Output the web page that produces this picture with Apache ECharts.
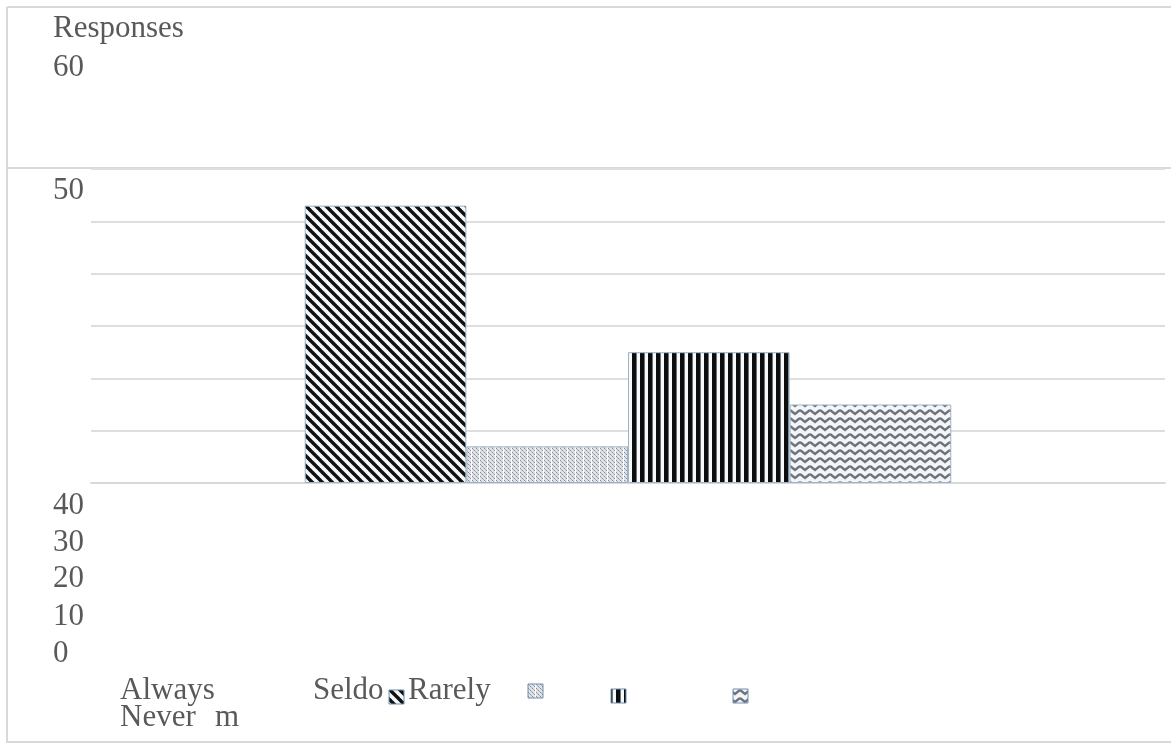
<!DOCTYPE html>
<html>
<head>
<meta charset="utf-8">
<title>Responses</title>
<script src="https://cdn.jsdelivr.net/npm/echarts@6/dist/echarts.min.js"></script>
<style>
  html, body { margin: 0; padding: 0; background: #fff; }
  #chart { width: 1171px; height: 743px; }
</style>
</head>
<body>
<div id="chart"></div>
<script>
// Answer categories and the number of responses for each
const categories = ['Always', 'Seldom', 'Rarely', 'Never'];
const responses = [53, 7, 25, 15];

// Value axis tick labels and axis title
const yTickLabels = ['60', '50', '40', '30', '20', '10', '0'];
const axisTitle = 'Responses';

// --- fill patterns for the bars -------------------------------------
function tile(w, h, draw) {
  const c = document.createElement('canvas');
  c.width = w; c.height = h;
  const g = c.getContext('2d');
  draw(g, w, h);
  return c;
}

const diagTile = tile(10, 10, (g, w, h) => {
  g.fillStyle = '#f4f8fb'; g.fillRect(0, 0, w, h);
  g.strokeStyle = '#111'; g.lineWidth = 3.4;
  for (let k = -1; k <= 1; k++) {
    g.beginPath(); g.moveTo(k * w - 1, -1); g.lineTo(k * w + w + 1, h + 1); g.stroke();
  }
});

const dotTile = tile(8, 4, (g, w, h) => {
  g.fillStyle = '#dfe3e8'; g.fillRect(0, 0, w, h);
  g.fillStyle = '#868c94';
  g.fillRect(0, 0, 1, 1); g.fillRect(2, 2, 1, 1); g.fillRect(4, 0, 1, 1); g.fillRect(6, 2, 1, 1);
  g.fillStyle = '#a9aeb5';
  g.fillRect(1, 1, 1, 1); g.fillRect(3, 3, 1, 1); g.fillRect(5, 1, 1, 1);
  g.fillStyle = '#fbfcfd'; g.fillRect(7, 0, 1, h);
});

const vertTile = tile(8, 4, (g, w, h) => {
  g.fillStyle = '#f6f8fa'; g.fillRect(0, 0, w, h);
  g.fillStyle = '#0d0d0d'; g.fillRect(0, 0, 4, h);
  g.fillStyle = '#6d747c'; g.fillRect(4, 0, 1, h);
});

const zigTile = tile(10, 8, (g, w, h) => {
  g.fillStyle = '#f3f6f9'; g.fillRect(0, 0, w, h);
  g.strokeStyle = '#6e737a'; g.lineWidth = 2.3;
  g.beginPath(); g.moveTo(0, 2); g.lineTo(5, 6); g.lineTo(10, 2); g.stroke();
});

const patterns = [diagTile, dotTile, vertTile, zigTile].map(c => ({ image: c, repeat: 'repeat' }));

// --- text layout helpers ---------------------------------------------
const FONT = '31px "Liberation Serif", "Times New Roman", serif';
const TEXT_COLOR = '#595959';
function label(text, x, baseline) {
  return {
    type: 'text', x: x, y: baseline - 9.5, silent: true,
    style: { text: text, font: FONT, fill: TEXT_COLOR, verticalAlign: 'middle', align: 'left' }
  };
}
function frameLine(x1, y1, x2, y2) {
  return { type: 'line', silent: true, shape: { x1, y1, x2, y2 },
           style: { stroke: '#d9d9d9', lineWidth: 2 } };
}
function swatch(i, x, y) {
  return { type: 'rect', silent: true, shape: { x, y, width: 15, height: 14 },
           style: { fill: patterns[i], stroke: '#6f8fb0', lineWidth: 1 } };
}

// Tick label baselines on the page
const tickBaselines = [77, 200, 515, 552, 588, 626, 663];

const graphics = [
  frameLine(7, 7, 1171, 7),
  frameLine(7, 7, 7, 743),
  frameLine(7, 168, 1171, 168),
  frameLine(7, 742, 1171, 742),
  label(axisTitle, 53, 38)
];
yTickLabels.forEach((t, i) => graphics.push(label(t, 53, tickBaselines[i])));

// Legend entries
const seldomHead = categories[1].slice(0, 5);
const seldomTail = categories[1].slice(5);
graphics.push(label(categories[0], 120, 700));
graphics.push(label(seldomHead, 313, 700));
graphics.push(label(categories[2], 408, 700));
graphics.push(label(categories[3], 120, 727));
graphics.push(label(seldomTail, 215, 727));
graphics.push(swatch(0, 389, 690));
graphics.push(swatch(1, 528, 684));
graphics.push(swatch(2, 611, 689));
graphics.push(swatch(3, 733, 689));

const chart = echarts.init(document.getElementById('chart'), null, { renderer: 'canvas' });

chart.setOption({
  backgroundColor: '#ffffff',
  animation: false,
  grid: { left: 91, right: 6, top: 169, bottom: 260 },
  xAxis: {
    type: 'category',
    data: [''],
    axisLine: { show: true, lineStyle: { color: '#d9d9d9', width: 2 } },
    axisTick: { show: false },
    axisLabel: { show: false }
  },
  yAxis: {
    type: 'value',
    min: 0, max: 60, interval: 10,
    axisLine: { show: false },
    axisTick: { show: false },
    axisLabel: { show: false },
    splitLine: { lineStyle: { color: '#dedede', width: 2 } }
  },
  series: categories.map((name, i) => ({
    name: name,
    type: 'bar',
    data: [responses[i]],
    barGap: '0%',
    barCategoryGap: '39.8%',
    itemStyle: { color: patterns[i], borderColor: '#9db3c8', borderWidth: 1 }
  })),
  graphic: graphics
});
</script>
</body>
</html>
